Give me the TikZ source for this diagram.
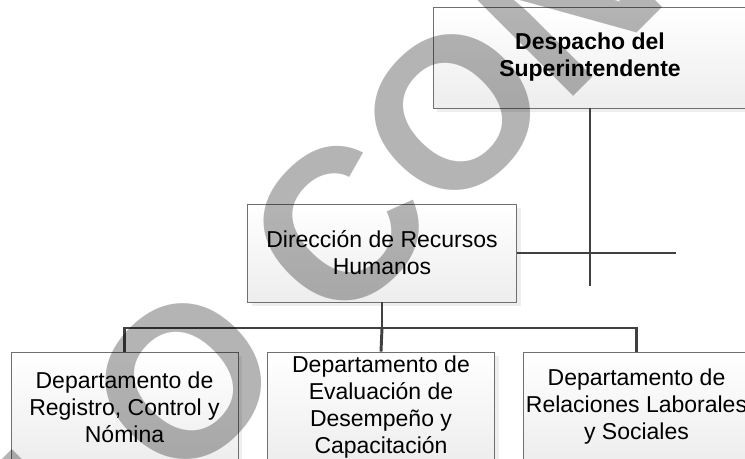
\documentclass[tikz,border=0pt]{standalone}
\usepackage{fontspec}
\setmainfont{Liberation Sans}
\newfontfamily\stampfont{Liberation Sans}
\usetikzlibrary{shadows}
\definecolor{linegray}{HTML}{404040}
\definecolor{boxedge}{HTML}{707070}
\definecolor{stampgray}{HTML}{B4B4B4}
\begin{document}
\begin{tikzpicture}[x=0.75pt, y=-0.75pt,
  unit/.style={draw=boxedge, line width=0.6pt, top color=white, bottom color=black!7,
    drop shadow={shadow xshift=3pt, shadow yshift=-3pt, fill=black!13},
    align=center, inner sep=2pt, font=\fontsize{17.25pt}{20.25pt}\selectfont},
  link/.style={draw=linegray, line width=2.2pt}]
\useasboundingbox (0,0) rectangle (745,459);
\clip (0,0) rectangle (745,459);

\node[unit, minimum width=235.5pt, minimum height=75.75pt,
  font=\fontsize{17.25pt}{20.25pt}\selectfont\bfseries] (desp) at (590,57.5) {Despacho del\\Superintendente};
\node[unit, minimum width=201.75pt, minimum height=73.5pt] (dir) at (382,253) {Direcci\'on de Recursos\\Humanos};
\node[unit, minimum width=170.25pt, minimum height=82.5pt] (reg) at (124.5,407) {Departamento de\\Registro, Control y\\N\'omina};
\node[unit, minimum width=170.25pt, minimum height=82.5pt] (eva) at (381,407) {Departamento de\\Evaluaci\'on de\\Desempe\~no y\\Capacitaci\'on};
\node[unit, minimum width=170.25pt, minimum height=82.5pt] (rel) at (636.5,407) {Departamento de\\Relaciones Laborales\\y Sociales};

\coordinate (vend) at (590,286);
\coordinate (hend) at (676,253);
\coordinate (bus) at (382,328);
\draw[link] (desp.south) -- (vend);
\draw[link] (dir.east) -- (hend);
\draw[link] (dir.south) -- (bus);
\draw[link] (reg.north) -- (reg.north |- bus) -- (rel.north |- bus) -- (rel.north);
\draw[link] (bus) -- (eva.north);

% watermark
\begin{scope}[blend mode=multiply]
\node[text=stampgray, rotate=45, anchor=base west, inner sep=0pt,
  font=\stampfont\bfseries\fontsize{160.5pt}{160pt}\selectfont] (stamp) at (-134,804) {SOLO CONSULTA};
\end{scope}
\end{tikzpicture}
\end{document}
